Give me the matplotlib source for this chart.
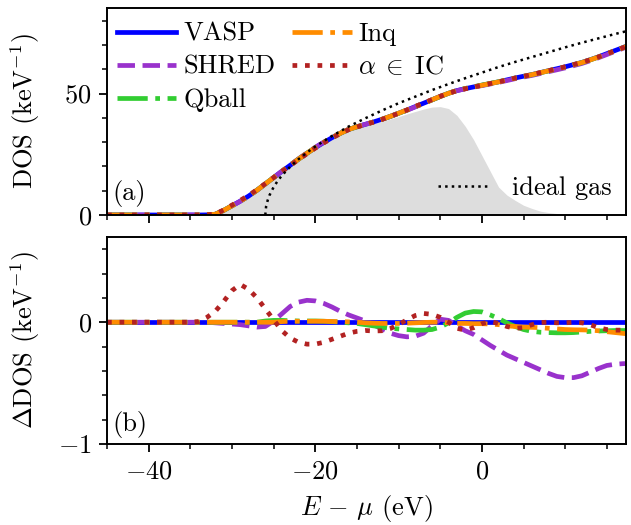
import numpy as np
import matplotlib
matplotlib.use("Agg")
import matplotlib.pyplot as plt
from matplotlib.ticker import MultipleLocator, FixedLocator

plt.rcParams['font.family'] = 'serif'
plt.rcParams['font.serif'] = ['cmr10']
plt.rcParams['mathtext.fontset'] = 'cm'
plt.rcParams['axes.formatter.use_mathtext'] = True
plt.rcParams['font.size'] = 19

# energy grid (eV), E - mu
E = list(range(-45, 19))

# DOS of the reference code (keV^-1)
dos_base = [0.0] * 12 + [0.05,
            0.3, 1.9, 3.8, 5.7, 7.8, 10.2, 12.8, 15.4, 18.0, 20.5,
            23.0, 25.4, 27.7, 29.8, 31.8, 33.6, 35.2, 36.3, 37.3, 38.3,
            39.4, 40.6, 41.9, 43.2, 44.6, 46.0, 47.4, 48.8, 50.1, 51.2,
            52.0, 52.7, 53.4, 54.1, 54.8, 55.6, 56.4, 57.1, 57.8, 58.6,
            59.4, 60.2, 61.0, 61.9, 62.8, 63.9, 65.1, 66.4, 67.7, 69.0, 70.3]

# occupied part (grey area)
dos_occ = [0.0] * 12 + [0.05,
           0.3, 1.9, 3.8, 5.7, 7.8, 10.2, 12.8, 15.4, 18.0, 20.5,
           23.0, 25.4, 27.6, 29.7, 31.6, 33.3, 34.8, 35.8, 36.7, 37.6,
           38.5, 39.5, 40.5, 41.6, 42.6, 43.6, 44.4, 44.6, 43.8, 41.0,
           36.5, 31.0, 24.5, 18.0, 11.5, 8.2, 6.0, 4.0, 2.7, 1.6,
           1.0, 0.6, 0.4, 0.25, 0.15, 0.1, 0.06, 0.04, 0.02, 0.01, 0.0]

# differences to VASP (keV^-1)
d_vasp = [0.0] * 64
d_shred = [0.0] * 13 + [
    -0.005, -0.01, -0.015, -0.02, -0.03, -0.04, -0.035, 0.01, 0.07, 0.13,
    0.165, 0.18, 0.175, 0.155, 0.125, 0.09, 0.06, 0.035, 0.01, -0.02,
    -0.055, -0.09, -0.11, -0.12, -0.115, -0.09, -0.03, 0.025, 0.015, -0.03,
    -0.07, -0.1, -0.145, -0.19, -0.23, -0.27, -0.3, -0.33, -0.36, -0.39,
    -0.42, -0.445, -0.455, -0.455, -0.44, -0.41, -0.38, -0.355, -0.345, -0.34, -0.34]
d_qball = [0.0] * 19 + [
    0.01, 0.015, 0.015, 0.012, 0.01, 0.01, 0.01, 0.008, 0.005, 0.0,
    -0.005, -0.01, -0.02, -0.03, -0.04, -0.05, -0.055, -0.06, -0.065, -0.065,
    -0.06, -0.04, -0.005, 0.04, 0.075, 0.088, 0.085, 0.06, 0.03, -0.005,
    -0.035, -0.06, -0.075, -0.082, -0.085, -0.087, -0.087, -0.085, -0.08, -0.075,
    -0.072, -0.07, -0.068, -0.068, -0.068]
d_inq = [0.0] * 21 + [
    0.005, 0.008, 0.008, 0.008, 0.008, 0.008, 0.006, 0.005, 0.003, 0.0,
    -0.005, -0.008, -0.01, -0.01, -0.01, -0.008, -0.005, -0.002, 0.0, 0.0,
    -0.005, -0.01, -0.01, -0.012, -0.012, -0.015, -0.02, -0.03, -0.035, -0.04,
    -0.042, -0.045, -0.05, -0.055, -0.06, -0.062, -0.063, -0.065, -0.07, -0.078,
    -0.085, -0.092, -0.1]
d_aic = [0.0] * 11 + [
    0.005, 0.04, 0.09, 0.17, 0.26, 0.31, 0.27, 0.2, 0.11, 0.02,
    -0.07, -0.13, -0.165, -0.18, -0.18, -0.165, -0.14, -0.115, -0.09, -0.075,
    -0.068, -0.072, -0.07, -0.052, -0.02, 0.02, 0.055, 0.072, 0.065, 0.04,
    0.0, -0.05, -0.065, -0.045, -0.012, 0.006, -0.01, -0.035, -0.05, -0.045,
    -0.02, -0.002, 0.0, -0.005, -0.005, 0.0, -0.005, -0.02, -0.045, -0.06,
    -0.065, -0.065, -0.06]

# ideal gas DOS
E_ideal = [-26, -25.9, -25.7, -25.5, -25, -24.5, -24, -23, -22, -21, -20, -18, -16,
           -14, -12, -10, -8, -6, -4, -2, 0, 2, 4, 6, 8, 10, 12, 14, 16, 18]
dos_ideal = [0, 3.6, 6.2, 8.1, 11.5, 14.1, 16.3, 19.9, 23.0, 25.7, 28.2, 32.5, 36.4,
             39.8, 43.0, 46.0, 48.7, 51.4, 53.9, 56.3, 58.6, 60.9, 63.0, 65.0, 67.0,
             69.0, 70.9, 72.7, 74.5, 76.2]

codes = ['VASP', 'SHRED', 'Qball', 'Inq', r'$\alpha \;\in\; \mathrm{IC}$']
diffs = [d_vasp, d_shred, d_qball, d_inq, d_aic]
colors = ['#0000ff', '#9932cc', '#32cd32', '#ff8c00', '#b22222']
styles = ['-', '--', '-.', '-.', ':']

fig = plt.figure(figsize=(6.31, 5.25), dpi=100)
ax1 = fig.add_axes([0.1696, 0.5905, 0.8225, 0.3943])
ax2 = fig.add_axes([0.1696, 0.1543, 0.8225, 0.3943], sharex=ax1)

Ea = np.array(E)
base = np.array(dos_base)
ax1.fill_between(Ea, 0, dos_occ, color='#dddddd', lw=0, zorder=1)
lines = []
for name, d, c, ls in zip(codes, diffs, colors, styles):
    l, = ax1.plot(Ea, base + np.array(d), color=c, ls=ls, lw=3.4, label=name, zorder=2)
    lines.append(l)
    ax2.plot(Ea, d, color=c, ls=ls, lw=3.4, zorder=2)
ideal, = ax1.plot(E_ideal, dos_ideal, color='black', ls=':', lw=1.8, zorder=3,
                  label='ideal gas')

leg1 = ax1.legend(handles=lines, loc='upper left', ncol=2, frameon=False,
                  borderaxespad=0.0, borderpad=0.38, handlelength=2.25,
                  handletextpad=0.25, columnspacing=0.65, labelspacing=0.35,
                  bbox_to_anchor=(0.0, 0.98))
ax1.add_artist(leg1)
ax1.legend(handles=[ideal], loc='lower right', frameon=False, borderaxespad=0.15,
           handlelength=2.0, handletextpad=0.8)

ax1.set_xlim(-45, 17.3)
ax1.set_ylim(0, 85.2)
ax2.set_ylim(-1, 0.7)

ax1.yaxis.set_major_locator(FixedLocator([0, 50]))
ax1.yaxis.set_minor_locator(MultipleLocator(10))
ax2.yaxis.set_major_locator(FixedLocator([-1, 0]))
ax2.yaxis.set_minor_locator(MultipleLocator(0.2))
ax2.xaxis.set_major_locator(MultipleLocator(20))
ax2.xaxis.set_minor_locator(MultipleLocator(5))
plt.setp(ax1.get_xticklabels(), visible=False)

for ax in (ax1, ax2):
    for s in ax.spines.values():
        s.set_linewidth(1.4)
    ax.tick_params(which='major', length=6, width=1.3, direction='out', pad=5)
    ax.tick_params(which='minor', length=3.5, width=1.1, direction='out')

ax1.set_ylabel(r'DOS (keV$^{-1}$)')
ax2.set_ylabel(r'$\Delta$DOS (keV$^{-1}$)')
ax2.set_xlabel(r'$E\,-\,\mu$ (eV)', labelpad=7)
ax1.yaxis.set_label_coords(-0.125, 0.5)
ax2.yaxis.set_label_coords(-0.125, 0.5)

ax1.text(0.01, 0.04, '(a)', transform=ax1.transAxes, va='bottom', ha='left')
ax2.text(0.01, 0.03, '(b)', transform=ax2.transAxes, va='bottom', ha='left')

fig.savefig('out.png', dpi=100)
